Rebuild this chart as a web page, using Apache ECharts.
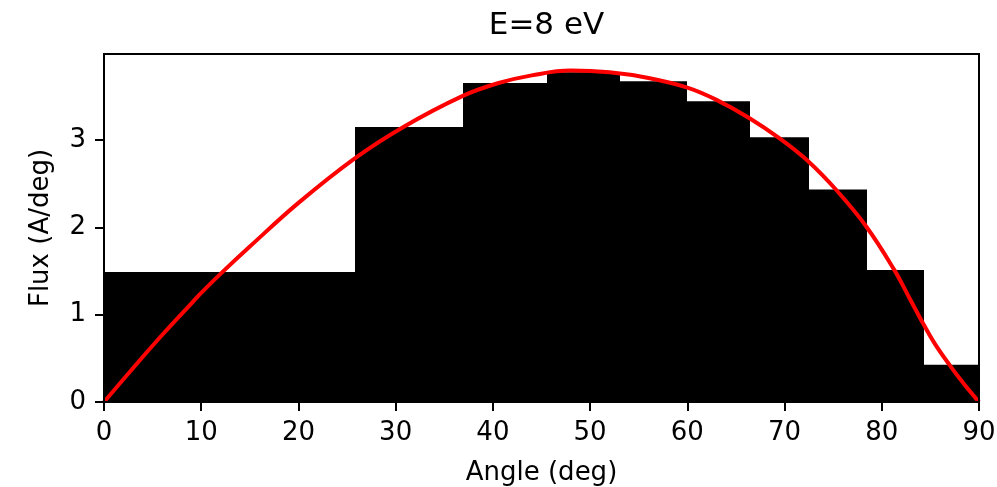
<!DOCTYPE html>
<html>
<head>
<meta charset="utf-8">
<title>E=8 eV</title>
<script src="https://cdn.jsdelivr.net/npm/echarts@6/dist/echarts.min.js"></script>
<style>
  html, body { margin: 0; padding: 0; background: #fff; }
  #chart { width: 997px; height: 487px; }
</style>
</head>
<body>
<div id="chart"></div>
<script>
// Histogram bin edges (deg) and flux per bin (A/deg)
const binEdges = [0, 25.8, 36.9, 45.6, 53.1, 60.0, 66.4, 72.5, 78.5, 84.3, 90];
const binFlux = [1.489, 3.15, 3.654, 3.775, 3.672, 3.443, 3.031, 2.432, 1.512, 0.427];

// Model curve: angle (deg) and flux (A/deg)
const curveAngle = [0, 3, 6, 9, 10, 12.2, 15, 20, 25.8, 30.8, 36.8, 40.5, 44, 48, 52, 56, 60, 63, 66.4, 69.6, 72.4, 75.3, 78.4, 81.3, 82.8, 84.25, 85.5, 87, 88.5, 90];
const curveFlux = [0, 0.39, 0.77, 1.13, 1.25, 1.49, 1.78, 2.28, 2.79, 3.15, 3.50, 3.65, 3.74, 3.795, 3.775, 3.71, 3.60, 3.46, 3.25, 3.01, 2.76, 2.43, 2.01, 1.51, 1.20, 0.90, 0.66, 0.42, 0.20, 0];

// Axis ticks
const xTicks = [0, 10, 20, 30, 40, 50, 60, 70, 80, 90];
const yTicks = [0, 1, 2, 3];

const binData = binFlux.map((v, i) => [binEdges[i], binEdges[i + 1], v]);
const curveData = curveAngle.map((a, i) => [a, curveFlux[i]]);

const FONT = 'DejaVu Sans';
const chart = echarts.init(document.getElementById('chart'), null, { renderer: 'canvas' });

chart.setOption({
  animation: false,
  backgroundColor: '#fff',
  title: {
    text: 'E=8 eV',
    left: 541.5,
    textAlign: 'center',
    top: 5,
    textStyle: { fontFamily: FONT, fontSize: 31, fontWeight: 'normal', color: '#000' }
  },
  grid: {
    left: 104, right: 18, top: 54, bottom: 85,
    outerBoundsMode: 'none',
    containLabel: false,
    show: true, z: 10,
    borderColor: '#000', borderWidth: 2,
    backgroundColor: 'transparent'
  },
  xAxis: {
    type: 'value',
    min: 0, max: 90, interval: 10,
    z: 10,
    name: 'Angle (deg)',
    nameLocation: 'middle',
    nameGap: 58,
    nameTextStyle: { fontFamily: FONT, fontSize: 26, color: '#000' },
    axisLine: { show: true, onZero: false, lineStyle: { color: '#000', width: 2 } },
    axisTick: { show: true, inside: false, length: 9, customValues: xTicks, lineStyle: { color: '#000', width: 2 } },
    axisLabel: { show: true, margin: 18, customValues: xTicks, fontFamily: FONT, fontSize: 26, color: '#000' },
    splitLine: { show: false }
  },
  yAxis: {
    type: 'value',
    min: 0, max: 3.985, interval: 1,
    z: 10,
    name: 'Flux (A/deg)',
    nameLocation: 'middle',
    nameGap: 50,
    nameRotate: 90,
    nameTextStyle: { fontFamily: FONT, fontSize: 26, color: '#000' },
    axisLine: { show: true, onZero: false, lineStyle: { color: '#000', width: 2 } },
    axisTick: { show: true, inside: false, length: 9, customValues: yTicks, lineStyle: { color: '#000', width: 2 } },
    axisLabel: { show: true, margin: 18, customValues: yTicks, fontFamily: FONT, fontSize: 26, color: '#000' },
    splitLine: { show: false }
  },
  series: [
    {
      type: 'custom',
      name: 'histogram',
      data: binData,
      encode: { x: [0, 1], y: 2 },
      z: 2,
      renderItem: function (params, api) {
        const p0 = api.coord([api.value(0), api.value(2)]);
        const p1 = api.coord([api.value(1), 0]);
        // snap bin edges to whole pixels so neighbouring bars meet without seams
        const x0 = Math.round(p0[0]);
        const x1 = Math.round(p1[0]);
        return {
          type: 'rect',
          shape: { x: x0, y: p0[1], width: x1 - x0, height: p1[1] - p0[1] },
          style: { fill: '#000', stroke: null }
        };
      }
    },
    {
      type: 'line',
      name: 'model',
      data: curveData,
      z: 5,
      smooth: 0.4,
      showSymbol: false,
      symbol: 'none',
      lineStyle: { color: '#ff0000', width: 4 }
    }
  ]
});
</script>
</body>
</html>
